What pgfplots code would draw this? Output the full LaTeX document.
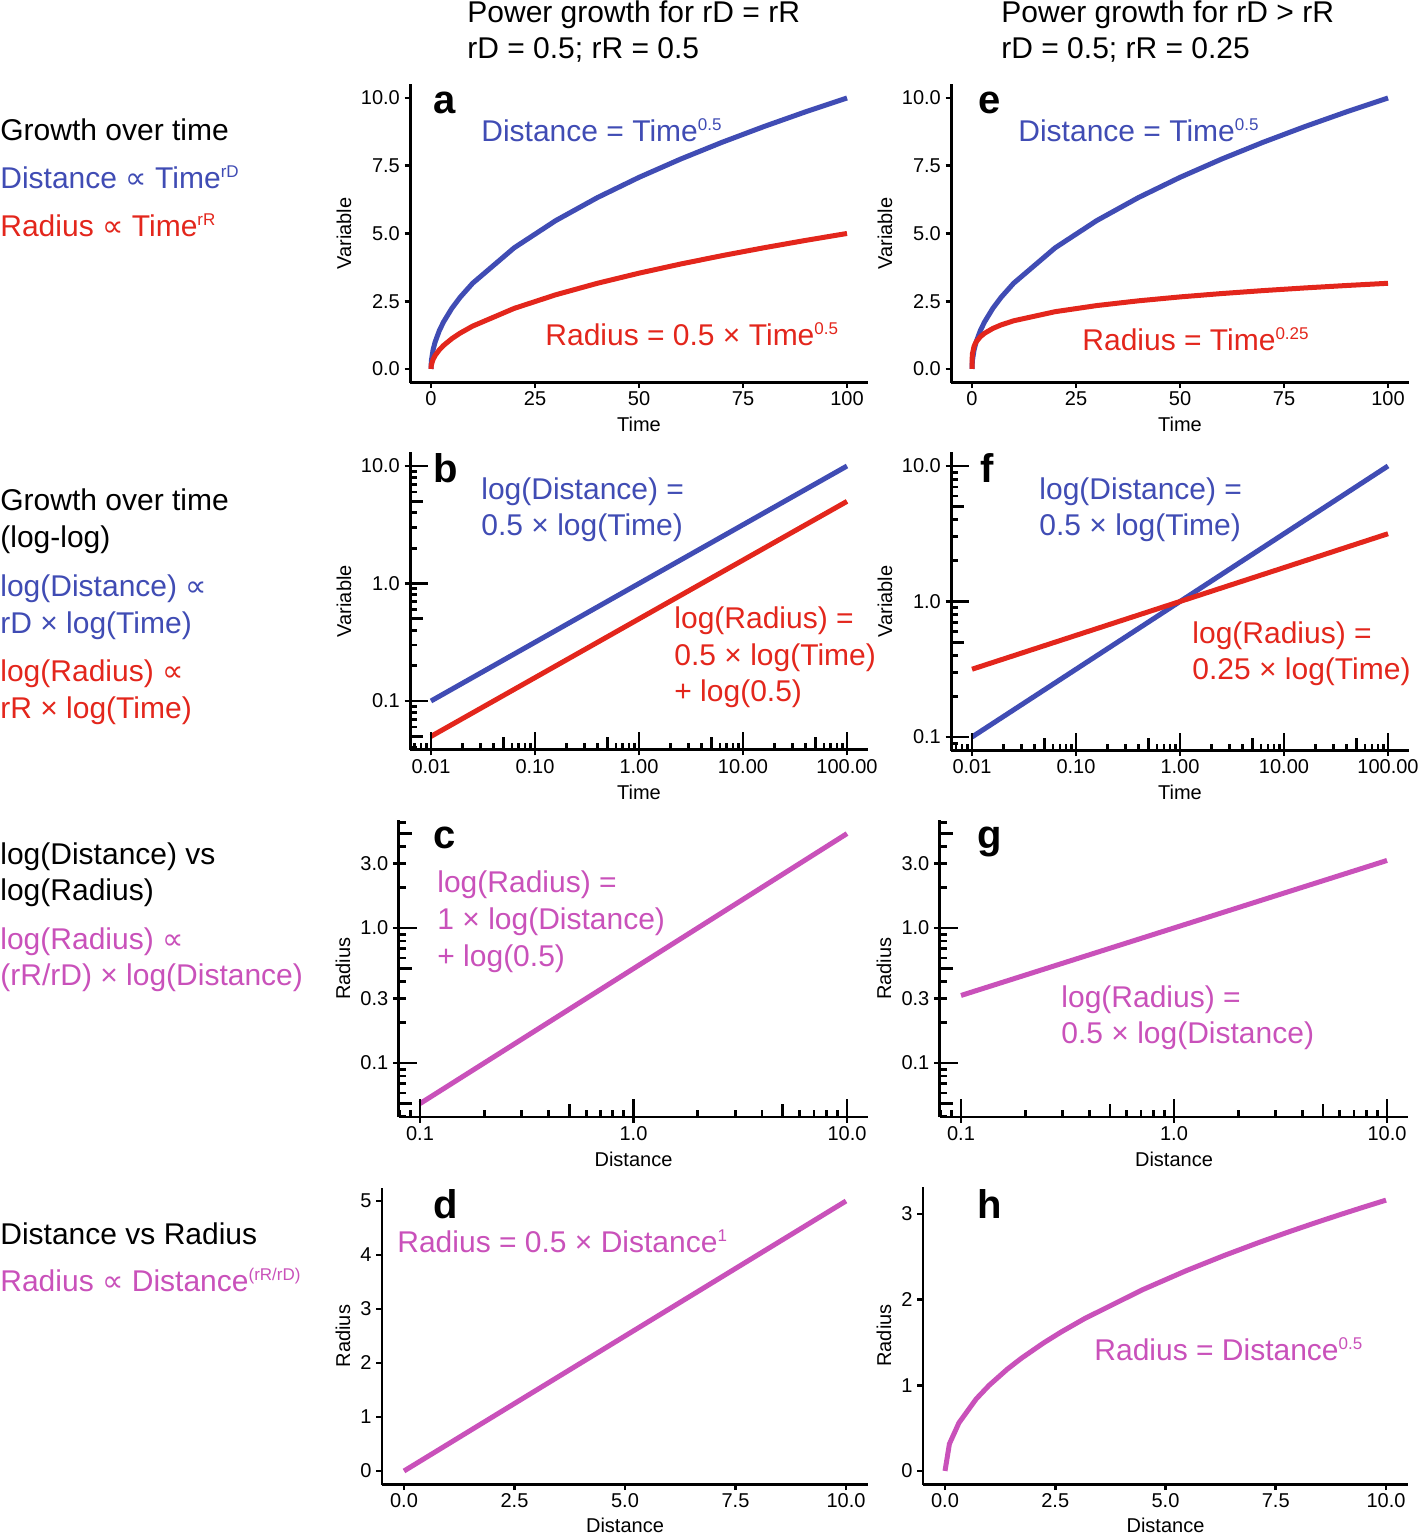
\documentclass[border=0pt]{standalone}
\usepackage{fontspec}
\setmainfont{Liberation Sans}
\newfontfamily\dejavu{DejaVu Sans}
\usepackage{pgfplots}
\pgfplotsset{compat=1.18}
\definecolor{cB}{RGB}{64,76,180}
\definecolor{cR}{RGB}{227,38,28}
\definecolor{cM}{RGB}{201,81,186}
\newcommand\prop{{\dejavu\char"221D}}
\newcommand\sps[1]{\raisebox{5.5pt}{\fontsize{8.5}{9}\selectfont #1}}
\newcommand\txt{\fontsize{15}{18}\selectfont}
\newcommand\lbl{\fontsize{20}{24}\selectfont\bfseries}
\pgfplotsset{
  P/.style={
    scale only axis, anchor=south west,
    axis lines=left,
    axis line style={-, line width=1.4pt, black},
    tick style={black, line width=1.4pt},
    tick align=outside, major tick length=2.75pt,
    xminorticks=false, yminorticks=false,
    tick label style={font=\fontsize{10}{12}\selectfont, inner sep=0pt},
    xticklabel style={anchor=center, yshift=-5.5pt},
    yticklabel style={anchor=east, xshift=-2.25pt},
    label style={font=\fontsize{10}{12}\selectfont, inner sep=0pt},
    xlabel style={anchor=center},
    ylabel style={anchor=center},
    /pgf/number format/assume math mode=true,
  },
  L/.style={line width=2.5pt, no markers},
  OV/.style={
    scale only axis, anchor=south west,
    axis lines=left,
    axis line style={-, draw=none},
    tick style={black, line width=1.4pt},
    tick align=inside,
    xticklabels={}, yticklabels={},
    tick label style={opacity=0, text opacity=0},
  },
}
\tikzset{T/.style={anchor=base west, inner sep=0pt, font=\txt},
         B/.style={anchor=base west, inner sep=0pt, font=\lbl}}
\begin{document}
\begin{tikzpicture}
\path[use as bounding box] (0pt,0pt) rectangle (709pt,767pt);

% ---------- panel a ----------
\begin{axis}[P, at={(205.1pt,575.725pt)}, width=228.8pt, height=149.05pt,
  xmin=-5, xmax=105, ymin=-0.5, ymax=10.5,
  xtick={0,25,50,75,100}, xticklabels={0,25,50,75,100},
  ytick={0,2.5,5,7.5,10}, yticklabels={0.0,2.5,5.0,7.5,10.0},
  xlabel={Time}, ylabel={Variable},
  xlabel style={at={(axis description cs:0.5,-0.139)}},
  ylabel style={at={(axis description cs:-0.1447,0.5)}}]
\addplot[L, cB] coordinates {(0,0) (0.01,0.1) (0.1,0.31623) (0.5,0.70711) (1,1) (2,1.41421) (3,1.73205) (5,2.23607) (7,2.64575) (10,3.16228) (20,4.47214) (30,5.47723) (40,6.32456) (50,7.07107) (60,7.74597) (70,8.36660) (80,8.94427) (90,9.48683) (100,10)};
\addplot[L, cR] coordinates {(0,0) (0.01,0.05) (0.1,0.15811) (0.5,0.35355) (1,0.5) (2,0.70711) (3,0.86603) (5,1.11803) (7,1.32288) (10,1.58114) (20,2.23607) (30,2.73861) (40,3.16228) (50,3.53553) (60,3.87298) (70,4.18330) (80,4.47214) (90,4.74342) (100,5)};
\end{axis}

% ---------- panel e ----------
\begin{axis}[P, at={(475.6pt,575.725pt)}, width=228.8pt, height=149.05pt,
  xmin=-5, xmax=105, ymin=-0.5, ymax=10.5,
  xtick={0,25,50,75,100}, xticklabels={0,25,50,75,100},
  ytick={0,2.5,5,7.5,10}, yticklabels={0.0,2.5,5.0,7.5,10.0},
  xlabel={Time}, ylabel={Variable},
  xlabel style={at={(axis description cs:0.5,-0.139)}},
  ylabel style={at={(axis description cs:-0.1447,0.5)}}]
\addplot[L, cB] coordinates {(0,0) (0.01,0.1) (0.1,0.31623) (0.5,0.70711) (1,1) (2,1.41421) (3,1.73205) (5,2.23607) (7,2.64575) (10,3.16228) (20,4.47214) (30,5.47723) (40,6.32456) (50,7.07107) (60,7.74597) (70,8.36660) (80,8.94427) (90,9.48683) (100,10)};
\addplot[L, cR] coordinates {(0,0) (0.01,0.31623) (0.1,0.56234) (0.5,0.84090) (1,1) (2,1.18921) (3,1.31607) (5,1.49535) (7,1.62658) (10,1.77828) (20,2.11474) (30,2.34035) (40,2.51487) (50,2.65915) (60,2.78316) (70,2.89257) (80,2.99070) (90,3.08007) (100,3.16228)};
\end{axis}

% ---------- panel b ----------
\begin{axis}[P, at={(205.1pt,392.05pt)}, width=228.8pt, height=148.7pt,
  xmode=log, ymode=log,
  xmin=0.0063096, xmax=158.489, ymin=0.038371, ymax=13.032,
  xtick={0.01,0.1,1,10,100}, xticklabels={0.01,0.10,1.00,10.00,100.00},
  ytick={0.1,1,10}, yticklabels={0.1,1.0,10.0},
  xlabel={Time}, ylabel={Variable},
  xlabel style={at={(axis description cs:0.5,-0.1416)}},
  ylabel style={at={(axis description cs:-0.1447,0.5)}}]
\addplot[L, cB] coordinates {(0.01,0.1) (0.1,0.31623) (1,1) (10,3.16228) (100,10)};
\addplot[L, cR] coordinates {(0.01,0.05) (0.1,0.15811) (1,0.5) (10,1.58114) (100,5)};
\end{axis}
\begin{axis}[OV, at={(205.1pt,392.05pt)}, width=228.8pt, height=148.7pt,
  xmode=log, ymode=log,
  xmin=0.0063096, xmax=158.489, ymin=0.038371, ymax=13.032,
  xtick={0.01,0.1,1,10,100}, ytick={0.1,1,10},
  xminorticks=true, yminorticks=true,
  minor xtick={0.007,0.008,0.009,0.02,0.03,0.04,0.06,0.07,0.08,0.09,0.2,0.3,0.4,0.6,0.7,0.8,0.9,2,3,4,6,7,8,9,20,30,40,60,70,80,90},
  minor ytick={0.04,0.06,0.07,0.08,0.09,0.2,0.3,0.4,0.6,0.7,0.8,0.9,2,3,4,6,7,8,9},
  major tick length=9pt, minor tick length=3.5pt]
\end{axis}
\begin{axis}[OV, at={(205.1pt,392.05pt)}, width=228.8pt, height=148.7pt,
  xmode=log, ymode=log,
  xmin=0.0063096, xmax=158.489, ymin=0.038371, ymax=13.032,
  xtick={0.05,0.5,5,50}, ytick={0.05,0.5,5},
  xminorticks=false, yminorticks=false,
  major tick length=6.5pt]
\end{axis}

% ---------- panel f ----------
\begin{axis}[P, at={(475.6pt,391.725pt)}, width=228.8pt, height=149.05pt,
  xmode=log, ymode=log,
  xmin=0.0063096, xmax=158.489, ymin=0.079433, ymax=12.589,
  xtick={0.01,0.1,1,10,100}, xticklabels={0.01,0.10,1.00,10.00,100.00},
  ytick={0.1,1,10}, yticklabels={0.1,1.0,10.0},
  xlabel={Time}, ylabel={Variable},
  xlabel style={at={(axis description cs:0.5,-0.139)}},
  ylabel style={at={(axis description cs:-0.1447,0.5)}}]
\addplot[L, cB] coordinates {(0.01,0.1) (0.1,0.31623) (1,1) (10,3.16228) (100,10)};
\addplot[L, cR] coordinates {(0.01,0.31623) (0.1,0.56234) (1,1) (10,1.77828) (100,3.16228)};
\end{axis}
\begin{axis}[OV, at={(475.6pt,391.725pt)}, width=228.8pt, height=149.05pt,
  xmode=log, ymode=log,
  xmin=0.0063096, xmax=158.489, ymin=0.079433, ymax=12.589,
  xtick={0.01,0.1,1,10,100}, ytick={0.1,1,10},
  xminorticks=true, yminorticks=true,
  minor xtick={0.007,0.008,0.009,0.02,0.03,0.04,0.06,0.07,0.08,0.09,0.2,0.3,0.4,0.6,0.7,0.8,0.9,2,3,4,6,7,8,9,20,30,40,60,70,80,90},
  minor ytick={0.08,0.09,0.2,0.3,0.4,0.6,0.7,0.8,0.9,2,3,4,6,7,8,9},
  major tick length=9pt, minor tick length=3.5pt]
\end{axis}
\begin{axis}[OV, at={(475.6pt,391.725pt)}, width=228.8pt, height=149.05pt,
  xmode=log, ymode=log,
  xmin=0.0063096, xmax=158.489, ymin=0.079433, ymax=12.589,
  xtick={0.05,0.5,5,50}, ytick={0.5,5},
  xminorticks=false, yminorticks=false,
  major tick length=6.5pt]
\end{axis}

% ---------- panel c ----------
\begin{axis}[P, at={(199.325pt,208.45pt)}, width=234.85pt, height=148.5pt,
  xmode=log, ymode=log,
  xmin=0.079433, xmax=12.589, ymin=0.039719, ymax=6.2946,
  xtick={0.1,1,10}, xticklabels={0.1,1.0,10.0},
  ytick={0.1,0.3,1,3}, yticklabels={0.1,0.3,1.0,3.0},
  xlabel={Distance}, ylabel={Radius},
  xlabel style={at={(axis description cs:0.5,-0.141)}},
  ylabel style={at={(axis description cs:-0.1185,0.5)}}]
\addplot[L, cM] coordinates {(0.1,0.05) (1,0.5) (10,5)};
\end{axis}
\begin{axis}[OV, at={(199.325pt,208.45pt)}, width=234.85pt, height=148.5pt,
  xmode=log, ymode=log,
  xmin=0.079433, xmax=12.589, ymin=0.039719, ymax=6.2946,
  xtick={0.1,1,10}, ytick={0.1,1},
  xminorticks=true, yminorticks=true,
  minor xtick={0.08,0.09,0.2,0.3,0.4,0.6,0.7,0.8,0.9,2,3,4,6,7,8,9},
  minor ytick={0.04,0.06,0.07,0.08,0.09,0.2,0.3,0.4,0.6,0.7,0.8,0.9,2,3,4,6},
  major tick length=9pt, minor tick length=3.5pt]
\end{axis}
\begin{axis}[OV, at={(199.325pt,208.45pt)}, width=234.85pt, height=148.5pt,
  xmode=log, ymode=log,
  xmin=0.079433, xmax=12.589, ymin=0.039719, ymax=6.2946,
  xtick={0.5,5}, ytick={0.05,0.5,5},
  xminorticks=false, yminorticks=false,
  major tick length=6.5pt]
\end{axis}

% ---------- panel g ----------
\begin{axis}[P, at={(469.85pt,208.45pt)}, width=234.3pt, height=148.5pt,
  xmode=log, ymode=log,
  xmin=0.079433, xmax=12.589, ymin=0.039719, ymax=6.2946,
  xtick={0.1,1,10}, xticklabels={0.1,1.0,10.0},
  ytick={0.1,0.3,1,3}, yticklabels={0.1,0.3,1.0,3.0},
  xlabel={Distance}, ylabel={Radius},
  xlabel style={at={(axis description cs:0.5,-0.141)}},
  ylabel style={at={(axis description cs:-0.1189,0.5)}}]
\addplot[L, cM] coordinates {(0.1,0.31623) (1,1) (10,3.16228)};
\end{axis}
\begin{axis}[OV, at={(469.85pt,208.45pt)}, width=234.3pt, height=148.5pt,
  xmode=log, ymode=log,
  xmin=0.079433, xmax=12.589, ymin=0.039719, ymax=6.2946,
  xtick={0.1,1,10}, ytick={0.1,1},
  xminorticks=true, yminorticks=true,
  minor xtick={0.08,0.09,0.2,0.3,0.4,0.6,0.7,0.8,0.9,2,3,4,6,7,8,9},
  minor ytick={0.04,0.06,0.07,0.08,0.09,0.2,0.3,0.4,0.6,0.7,0.8,0.9,2,3,4,6},
  major tick length=9pt, minor tick length=3.5pt]
\end{axis}
\begin{axis}[OV, at={(469.85pt,208.45pt)}, width=234.3pt, height=148.5pt,
  xmode=log, ymode=log,
  xmin=0.079433, xmax=12.589, ymin=0.039719, ymax=6.2946,
  xtick={0.5,5}, ytick={0.05,0.5,5},
  xminorticks=false, yminorticks=false,
  major tick length=6.5pt]
\end{axis}

% ---------- panel d ----------
\begin{axis}[P, at={(190.95pt,24.75pt)}, width=243.1pt, height=148.5pt,
  xmin=-0.5, xmax=10.5, ymin=-0.25, ymax=5.25,
  xtick={0,2.5,5,7.5,10}, xticklabels={0.0,2.5,5.0,7.5,10.0},
  ytick={0,1,2,3,4,5}, yticklabels={0,1,2,3,4,5},
  xlabel={Distance}, ylabel={Radius},
  xlabel style={at={(axis description cs:0.5,-0.136)}},
  ylabel style={at={(axis description cs:-0.080,0.5)}}]
\addplot[L, cM] coordinates {(0,0) (1,0.5) (2.5,1.25) (5,2.5) (7.5,3.75) (10,5)};
\end{axis}

% ---------- panel h ----------
\begin{axis}[P, at={(461.475pt,24.75pt)}, width=242.55pt, height=148.95pt,
  xmin=-0.5, xmax=10.5, ymin=-0.15811, ymax=3.3204,
  xtick={0,2.5,5,7.5,10}, xticklabels={0.0,2.5,5.0,7.5,10.0},
  ytick={0,1,2,3}, yticklabels={0,1,2,3},
  xlabel={Distance}, ylabel={Radius},
  xlabel style={at={(axis description cs:0.5,-0.136)}},
  ylabel style={at={(axis description cs:-0.0803,0.5)}}]
\addplot[L, cM] coordinates {(0,0) (0.1,0.31623) (0.31623,0.56234) (0.70711,0.84090) (1,1) (1.41421,1.18921) (1.73205,1.31607) (2.23607,1.49535) (2.64575,1.62658) (3.16228,1.77828) (4.47214,2.11474) (5.47723,2.34035) (6.32456,2.51487) (7.07107,2.65915) (7.74597,2.78316) (8.36660,2.89257) (8.94427,2.99070) (9.48683,3.08007) (10,3.16228)};
\end{axis}

\begin{scope}[x=0.5pt,y=0.5pt]
% ---------- headers ----------
\node[T] at (467,{1534-23}) {Power growth for rD = rR};
\node[T] at (467,{1534-59}) {rD = 0.5; rR = 0.5};
\node[T] at (1001,{1534-23}) {Power growth for rD > rR};
\node[T] at (1001,{1534-59}) {rD = 0.5; rR = 0.25};

% ---------- left column ----------
\node[T] at (0,{1534-141}) {Growth over time};
\node[T, text=cB] at (0,{1534-189}) {Distance \prop{} Time\sps{rD}};
\node[T, text=cR] at (0,{1534-237}) {Radius \prop{} Time\sps{rR}};

\node[T] at (0,{1534-511}) {Growth over time};
\node[T] at (0,{1534-548}) {(log-log)};
\node[T, text=cB] at (0,{1534-597}) {log(Distance) \prop};
\node[T, text=cB] at (0,{1534-634}) {rD × log(Time)};
\node[T, text=cR] at (0,{1534-682}) {log(Radius) \prop};
\node[T, text=cR] at (0,{1534-719}) {rR × log(Time)};

\node[T] at (0,{1534-865}) {log(Distance) vs};
\node[T] at (0,{1534-901}) {log(Radius)};
\node[T, text=cM] at (0,{1534-950}) {log(Radius) \prop};
\node[T, text=cM] at (0,{1534-986}) {(rR/rD) × log(Distance)};

\node[T] at (0,{1534-1245}) {Distance vs Radius};
\node[T, text=cM] at (0,{1534-1292}) {Radius \prop{} Distance\sps{(rR/rD)}};

% ---------- panel letters ----------
\node[B] at (433,{1534-114}) {a};
\node[B] at (978,{1534-114}) {e};
\node[B] at (433,{1534-483}) {b};
\node[B] at (980,{1534-483}) {f};
\node[B] at (433,{1534-849}) {c};
\node[B] at (977,{1534-849}) {g};
\node[B] at (433,{1534-1219}) {d};
\node[B] at (977,{1534-1219}) {h};

% ---------- annotations ----------
\node[T, text=cB] at (481,{1534-142}) {Distance = Time\sps{0.5}};
\node[T, text=cR] at (545,{1534-346}) {Radius = 0.5 × Time\sps{0.5}};
\node[T, text=cB] at (1018,{1534-142}) {Distance = Time\sps{0.5}};
\node[T, text=cR] at (1082,{1534-351}) {Radius = Time\sps{0.25}};

\node[T, text=cB] at (481,{1534-500}) {log(Distance) =};
\node[T, text=cB] at (481,{1534-536}) {0.5 × log(Time)};
\node[T, text=cR] at (674,{1534-629}) {log(Radius) =};
\node[T, text=cR] at (674,{1534-666}) {0.5 × log(Time)};
\node[T, text=cR] at (674,{1534-702}) {+ log(0.5)};

\node[T, text=cB] at (1039,{1534-500}) {log(Distance) =};
\node[T, text=cB] at (1039,{1534-536}) {0.5 × log(Time)};
\node[T, text=cR] at (1192,{1534-644}) {log(Radius) =};
\node[T, text=cR] at (1192,{1534-680}) {0.25 × log(Time)};

\node[T, text=cM] at (437,{1534-893}) {log(Radius) =};
\node[T, text=cM] at (437,{1534-930}) {1 × log(Distance)};
\node[T, text=cM] at (437,{1534-967}) {+ log(0.5)};

\node[T, text=cM] at (1061,{1534-1008}) {log(Radius) =};
\node[T, text=cM] at (1061,{1534-1044}) {0.5 × log(Distance)};

\node[T, text=cM] at (397,{1534-1253}) {Radius = 0.5 × Distance\sps{1}};
\node[T, text=cM] at (1094,{1534-1361}) {Radius = Distance\sps{0.5}};
\end{scope}
\end{tikzpicture}
\end{document}
